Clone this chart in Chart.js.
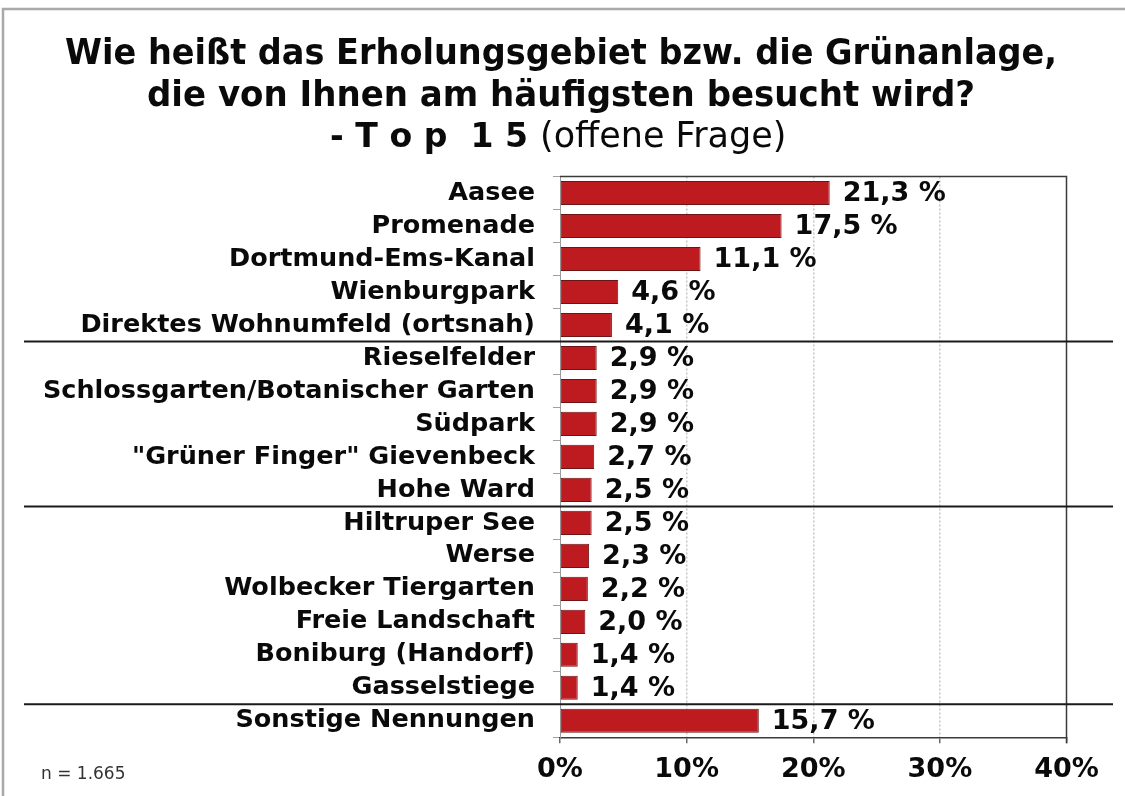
<!DOCTYPE html>
<html>
<head>
<meta charset="utf-8">
<script src="https://cdn.jsdelivr.net/npm/chart.js@4/dist/chart.umd.min.js"></script>
<style>
  html, body { margin: 0; padding: 0; background: #ffffff; }
  #wrap { width: 1125px; height: 796px; }
</style>
</head>
<body>
<div id="wrap"><canvas id="c" width="1125" height="796"></canvas></div>
<script>
// ---- data ----
const categories = [
  "Aasee",
  "Promenade",
  "Dortmund-Ems-Kanal",
  "Wienburgpark",
  "Direktes Wohnumfeld (ortsnah)",
  "Rieselfelder",
  "Schlossgarten/Botanischer Garten",
  "Südpark",
  "\"Grüner Finger\" Gievenbeck",
  "Hohe Ward",
  "Hiltruper See",
  "Werse",
  "Wolbecker Tiergarten",
  "Freie Landschaft",
  "Boniburg (Handorf)",
  "Gasselstiege",
  "Sonstige Nennungen"
];
const values = [21.3, 17.5, 11.1, 4.6, 4.1, 2.9, 2.9, 2.9, 2.7, 2.5, 2.5, 2.3, 2.2, 2.0, 1.4, 1.4, 15.7];
const xTicks = [0, 10, 20, 30, 40];
const groupBreaks = [4, 9, 15]; // separator after these category indices
const titleLine1 = "Wie heißt das Erholungsgebiet bzw. die Grünanlage,";
const titleLine2 = "die von Ihnen am häufigsten besucht wird?";
const titleLine3a = "- T o p  1 5";
const titleLine3b = "(offene Frage)";
const footnote = "n = 1.665";

const FONT = "'DejaVu Sans', Verdana, sans-serif";

const decorPlugin = {
  id: 'decor',
  beforeDraw(chart) {
    const ctx = chart.ctx;
    ctx.save();
    ctx.fillStyle = '#ffffff';
    ctx.fillRect(0, 0, chart.width, chart.height);
    // outer frame
    ctx.strokeStyle = '#a9a9a9';
    ctx.lineWidth = 2.5;
    ctx.strokeRect(3, 9, 1300, 1000);
    ctx.restore();
  },
  afterDraw(chart) {
    const ctx = chart.ctx;
    const a = chart.chartArea;
    const ys = chart.scales.y;
    ctx.save();
    // title
    ctx.fillStyle = '#0a0a0a';
    ctx.textBaseline = 'alphabetic';
    ctx.textAlign = 'center';
    ctx.font = "bold 36px " + FONT;
    ctx.fillText(titleLine1, 561, 64, 992);
    ctx.fillText(titleLine2, 561, 106, 828);
    ctx.textAlign = 'left';
    ctx.font = "bold 34px " + FONT;
    ctx.fillText(titleLine3a, 330, 147, 198);
    ctx.font = "35px " + FONT;
    ctx.fillText(titleLine3b, 540, 147, 250);
    // footnote
    ctx.font = "17px " + FONT;
    ctx.fillStyle = '#333333';
    ctx.fillText(footnote, 41, 779);
    // plot frame: top and right
    ctx.strokeStyle = '#3a3a3a';
    ctx.lineWidth = 1.5;
    ctx.beginPath();
    ctx.moveTo(a.left, a.top);
    ctx.lineTo(a.right, a.top);
    ctx.lineTo(a.right, a.bottom + 6);
    ctx.stroke();
    // group separators
    ctx.strokeStyle = '#1a1a1a';
    ctx.lineWidth = 2;
    groupBreaks.forEach(i => {
      const y = (ys.getPixelForValue(i) + ys.getPixelForValue(i + 1)) / 2;
      ctx.beginPath();
      ctx.moveTo(24, y);
      ctx.lineTo(1113, y);
      ctx.stroke();
    });
    ctx.restore();
  },
  afterDatasetsDraw(chart) {
    const ctx = chart.ctx;
    const meta = chart.getDatasetMeta(0);
    ctx.save();
    ctx.fillStyle = '#0a0a0a';
    ctx.font = "bold 27px " + FONT;
    ctx.textAlign = 'left';
    ctx.textBaseline = 'middle';
    meta.data.forEach((bar, i) => {
      const txt = values[i].toFixed(1).replace('.', ',') + ' %';
      ctx.fillText(txt, bar.x + 13, bar.y + 1);
    });
    ctx.restore();
  }
};

new Chart(document.getElementById('c'), {
  type: 'bar',
  data: {
    labels: categories,
    datasets: [{
      data: values,
      backgroundColor: '#be1b21',
      borderColor: '#6e1414',
      borderWidth: 1,
      borderSkipped: false,
      categoryPercentage: 1.0,
      barPercentage: 0.73
    }]
  },
  options: {
    indexAxis: 'y',
    responsive: false,
    maintainAspectRatio: false,
    devicePixelRatio: 1,
    animation: false,
    layout: { padding: { left: 0, right: 58.5, top: 176.5, bottom: 0 } },
    plugins: {
      legend: { display: false },
      title: { display: false },
      tooltip: { enabled: false }
    },
    scales: {
      x: {
        type: 'linear',
        min: 0,
        max: 40,
        afterBuildTicks(scale) { scale.ticks = xTicks.map(v => ({ value: v })); },
        afterFit(scale) { scale.height = 58.7; },
        ticks: {
          callback: v => v + '%',
          color: '#0a0a0a',
          font: { family: FONT, size: 27, weight: 'bold' },
          padding: 10,
          maxRotation: 0
        },
        grid: {
          drawOnChartArea: true,
          color: ctx => (ctx.tick && (ctx.tick.value === 0 || ctx.tick.value === 40)) ? 'rgba(0,0,0,0)' : '#bfcabf',
          lineWidth: 1.5,
          tickLength: 6,
          tickColor: '#6a6a6a',
          tickWidth: 1.5
        },
        border: { display: true, color: '#3a3a3a', width: 1.5, dash: [2, 2] }
      },
      y: {
        type: 'category',
        afterFit(scale) { scale.width = 560; },
        ticks: {
          color: '#0a0a0a',
          font: { family: FONT, size: 25.5, weight: 'bold' },
          padding: 18,
          autoSkip: false
        },
        grid: {
          offset: true,
          drawOnChartArea: false,
          tickLength: 7,
          tickColor: '#a0a0a0',
          tickWidth: 1
        },
        border: { display: true, color: '#9a9a9a', width: 1 }
      }
    }
  },
  plugins: [decorPlugin]
});
</script>
</body>
</html>
